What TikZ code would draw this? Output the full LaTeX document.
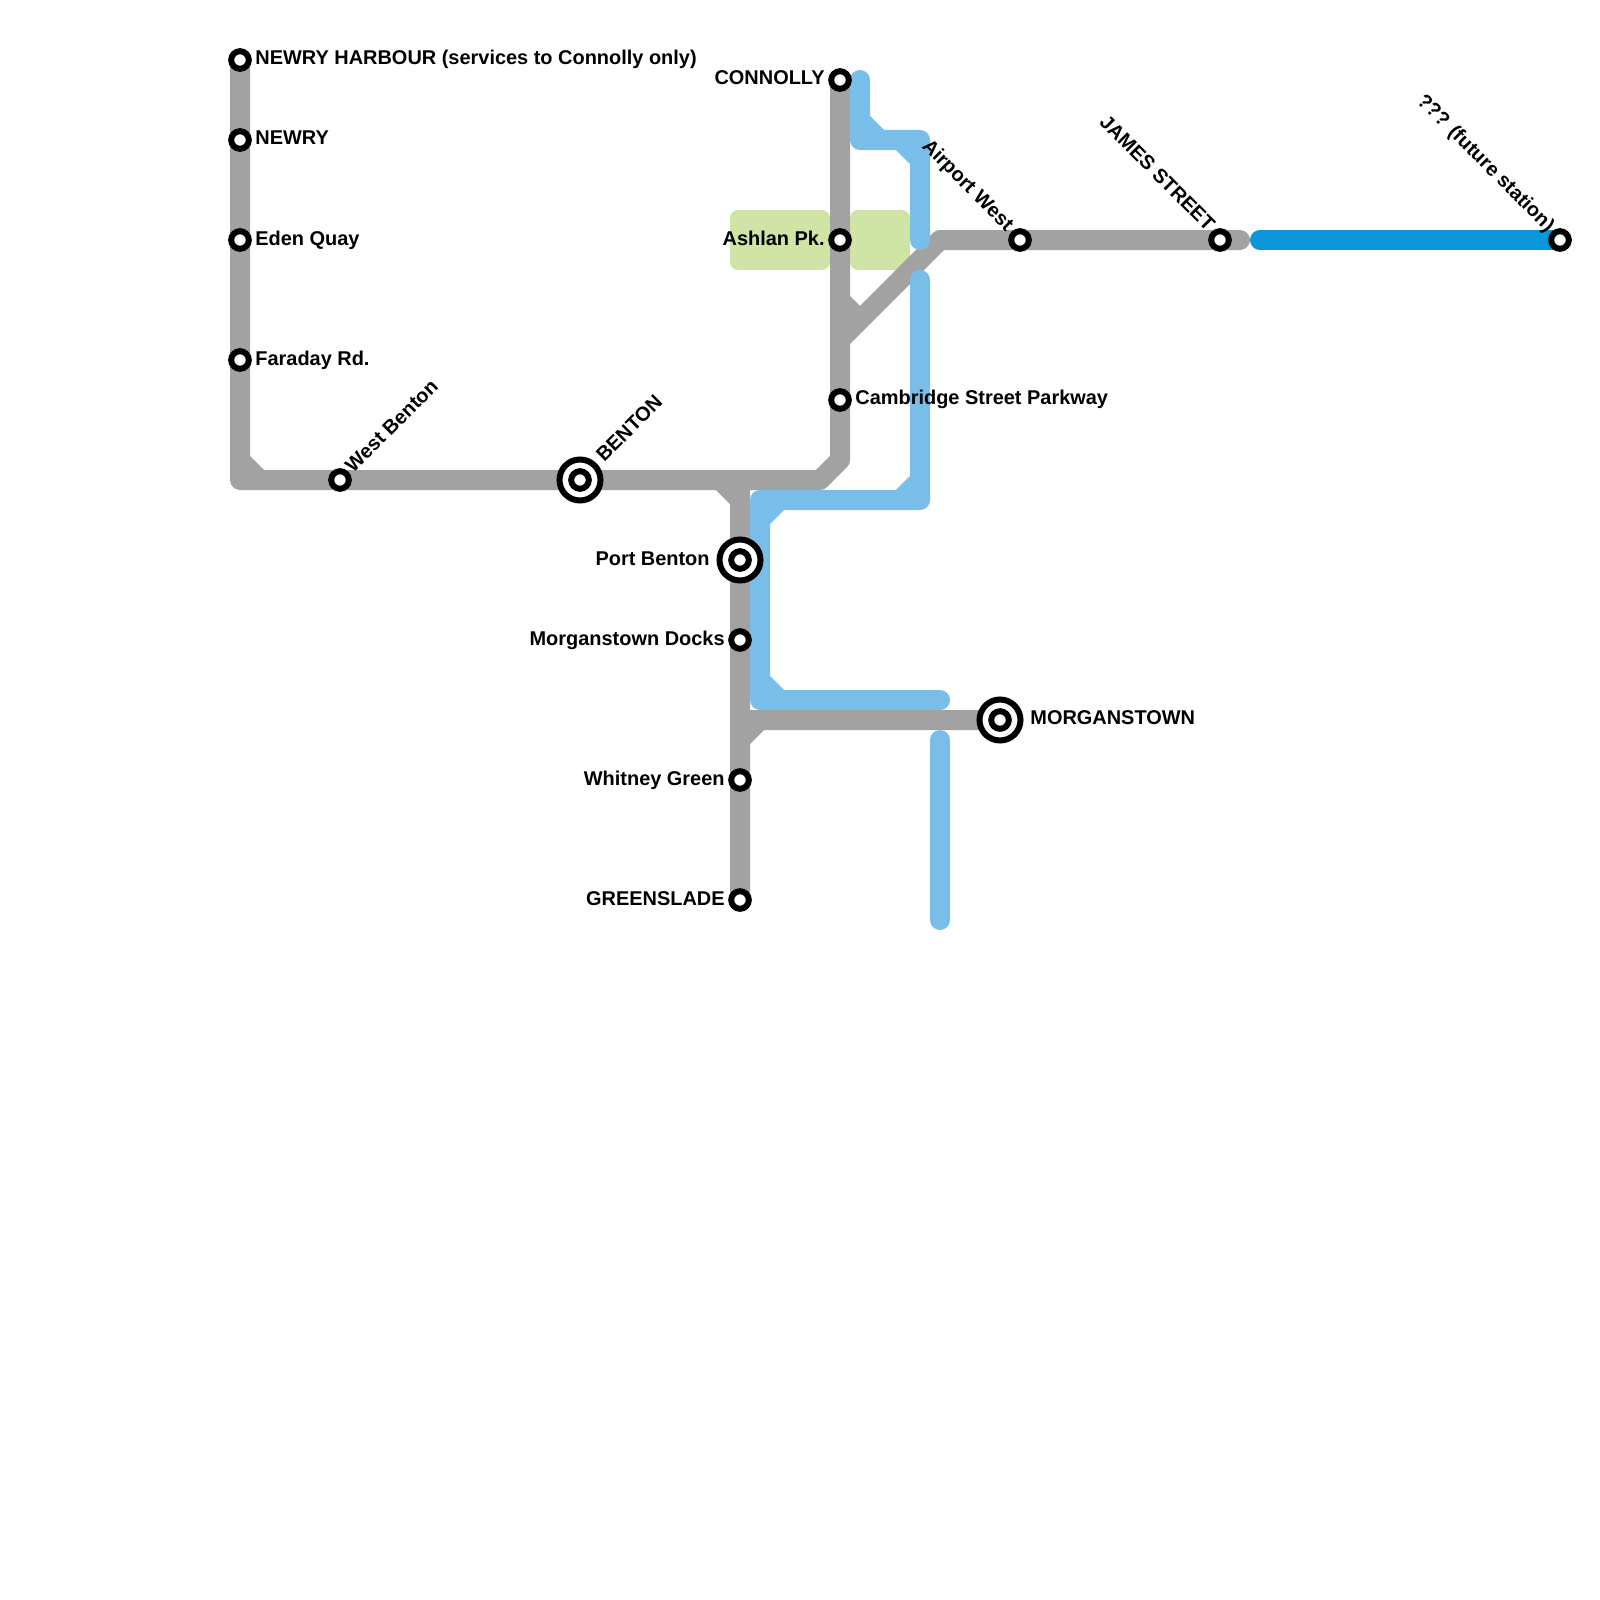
\documentclass[tikz,border=0pt]{standalone}
\usepackage{fontspec}
\setmainfont{Liberation Sans}
\definecolor{linegrey}{HTML}{A2A2A2}
\definecolor{lineblue}{HTML}{79BDE9}
\definecolor{linedeep}{HTML}{0A96D8}
\definecolor{parkgreen}{HTML}{D0E4A6}
\tikzset{
  track/.style={line width=10pt, line cap=round, line join=round},
  park/.style={fill=parkgreen, rounded corners=4pt},
  stn/.style={circle, draw=black, fill=white, line width=3pt, inner sep=0pt, outer sep=0pt, minimum size=8.8pt},
  hub/.style={circle, draw=black, fill=white, line width=3pt, inner sep=0pt, outer sep=0pt, minimum size=20.5pt},
  lab/.style={inner sep=0pt, font=\bfseries\fontsize{9.97}{12}\selectfont}
}

\begin{document}
\begin{tikzpicture}[x=0.5pt, y=-0.5pt]
  \useasboundingbox (0,0) rectangle (1600,1600);
  % parks
  \fill[park] (730,210) rectangle (830,270);
  \fill[park] (850,210) rectangle (910,270);
  % grey lines
  \draw[track, linegrey] (240,60) -- (240,480) -- (820,480) -- (840,460) -- (840,80)
    (240,460) -- (260,480);
  \draw[track, linegrey] (740,480) -- (740,900)
    (720,480) -- (740,500);
  \draw[track, linegrey] (740,720) -- (1000,720)
    (740,740) -- (760,720);
  \draw[track, linegrey] (840,340) -- (940,240) -- (1240,240)
    (840,300) -- (860,320);
  % blue lines
  \draw[track, lineblue] (860,80) -- (860,140) -- (920,140) -- (920,240)
    (860,120) -- (880,140)
    (900,140) -- (920,160);
  \draw[track, lineblue] (920,280) -- (920,500) -- (760,500) -- (760,700) -- (940,700)
    (900,500) -- (920,480)
    (760,520) -- (780,500)
    (760,680) -- (780,700);
  \draw[track, lineblue] (940,740) -- (940,920);
  \draw[track, linedeep] (1260,240) -- (1560,240);
  % stations
  \node[stn] (harbour) at (240,60) {};
  \node[stn] (newry) at (240,140) {};
  \node[stn] (eden) at (240,240) {};
  \node[stn] (faraday) at (240,360) {};
  \node[stn] (westb) at (340,480) {};
  \node[hub] (bentonring) at (580,480) {};
  \node[stn] (benton) at (580,480) {};
  \node[hub] (portring) at (740,560) {};
  \node[stn] (port) at (740,560) {};
  \node[stn] (docks) at (740,640) {};
  \node[stn] (whitney) at (740,780) {};
  \node[stn] (green) at (740,900) {};
  \node[stn] (connolly) at (840,80) {};
  \node[stn] (ashlan) at (840,240) {};
  \node[stn] (cambridge) at (840,400) {};
  \node[stn] (airport) at (1020,240) {};
  \node[stn] (james) at (1220,240) {};
  \node[stn] (future) at (1560,240) {};
  \node[hub] (morgring) at (1000,720) {};
  \node[stn] (morgan) at (1000,720) {};
  % labels
  \node[lab, anchor=base west] (lharbour) at (255,65) {NEWRY HARBOUR (services to Connolly only)};
  \node[lab, anchor=base west] (lnewry) at (255,145) {NEWRY};
  \node[lab, anchor=base west] (leden) at (255,245) {Eden Quay};
  \node[lab, anchor=base west] (lfaraday) at (255,365) {Faraday Rd.};
  \node[lab, anchor=base west, rotate=45] (lwestb) at (353,474) {West Benton};
  \node[lab, anchor=base west, rotate=45] (lbenton) at (604,463) {BENTON};
  \node[lab, anchor=base east] (lport) at (710,565) {Port Benton};
  \node[lab, anchor=base east] (ldocks) at (725,645) {Morganstown Docks};
  \node[lab, anchor=base east] (lwhitney) at (725,785) {Whitney Green};
  \node[lab, anchor=base east] (lgreen) at (725,905) {GREENSLADE};
  \node[lab, anchor=base east] (lconnolly) at (825,85) {CONNOLLY};
  \node[lab, anchor=base east] (lashlan) at (825,245) {Ashlan Pk.};
  \node[lab, anchor=base west] (lcambridge) at (855,404) {Cambridge Street Parkway};
  \node[lab, anchor=base east, rotate=-45] (lairport) at (1006,232) {Airport West};
  \node[lab, anchor=base east, rotate=-45] (ljames) at (1207,232) {JAMES STREET};
  \node[lab, anchor=base east, rotate=-45] (lfuture) at (1547,233) {??? (future station)};
  \node[lab, anchor=base west] (lmorgan) at (1030,724) {MORGANSTOWN};
\end{tikzpicture}
\end{document}
